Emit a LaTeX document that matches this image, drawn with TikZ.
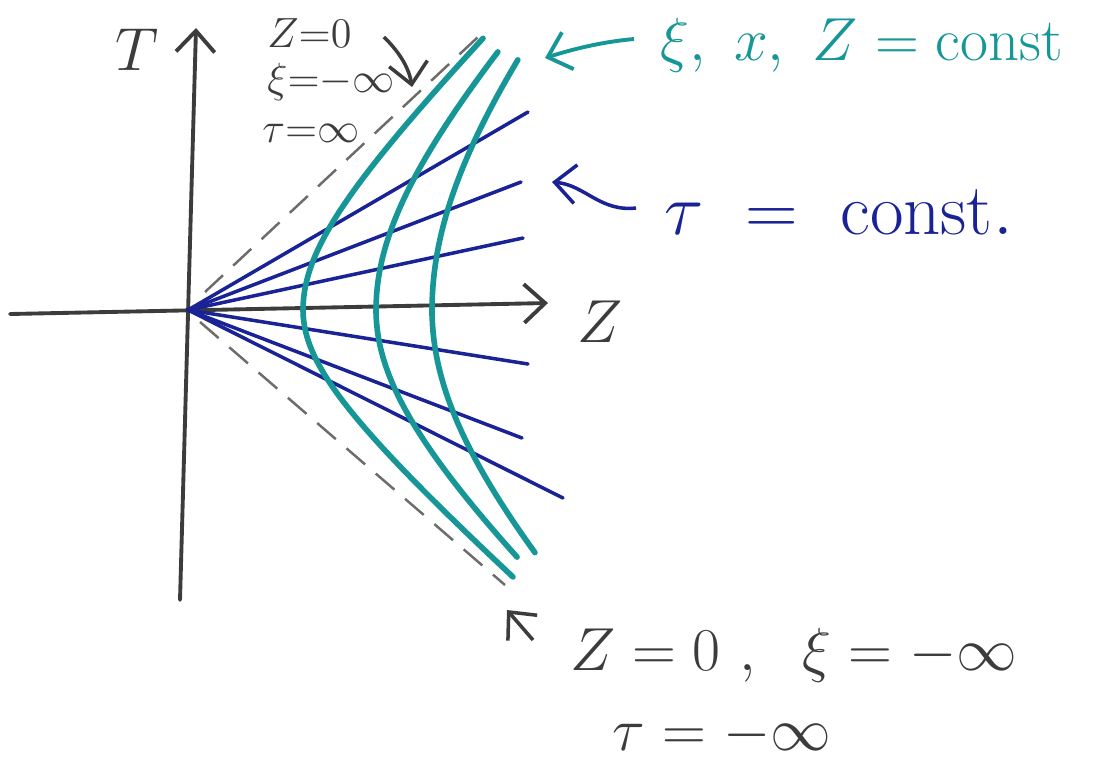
\documentclass[tikz,border=0pt]{standalone}
\usepackage{amsmath, amssymb}
\usepackage{tikz}
\usetikzlibrary{arrows.meta, calc}
\definecolor{tealink}{RGB}{22,150,150}
\definecolor{blueink}{RGB}{25,35,150}
\definecolor{pencil}{RGB}{60,60,60}

\begin{document}
\begin{tikzpicture}[x=0.01cm,y=-0.01cm,
    axis/.style={pencil,line width=1.1pt,line cap=round},
    horizon/.style={gray!85!black,line width=0.7pt,dash pattern=on 7pt off 4pt},
    tauline/.style={blueink,line width=1pt,line cap=round},
    xiline/.style={tealink,line width=1.6pt,line cap=round},
    >={Straight Barb[length=6pt,width=11pt]}]
  \useasboundingbox (0,0) rectangle (1119,760);
  \fill[white] (0,0) rectangle (1119,760);
  % axes
  \coordinate (O) at (188,310);
  \coordinate (zl) at (10,314);
  \coordinate (zr) at (548,303);
  \coordinate (tb) at (180,600);
  \coordinate (tt) at (196,28);
  \draw[axis,->] (zl) -- (zr);
  \draw[axis,->] (tb) -- (tt);
  \node[pencil,font=\LARGE] (tlbl) at (137,50) {$T$};
  \node[pencil,font=\LARGE] (zlbl) at (600,322) {$Z$};
  % horizons
  \coordinate (hup) at (478,37);
  \coordinate (hdn) at (505,585);
  \draw[horizon] (205,292) -- (hup);
  \draw[horizon] (200,322) -- (hdn);
  % tau = const
  \foreach \e in {(528,112),(521,182),(523,238),(528,364),(522,438),(563,498)}
    \draw[tauline] (O) -- \e;
  % xi = const (a / lower b / lower s / upper b / upper s)
  \foreach \a/\bl/\sl/\bu/\su in {115/101/1.699/115/1.595, 188/172/1.159/197/1.085, 244/240/0.889/275/0.816}
    \draw[xiline] plot[domain=-\sl:0,samples=30,variable=\s] ({188+\a*cosh(\s)},{310-\bl*sinh(\s)})
      -- plot[domain=0:\su,samples=30,variable=\s] ({188+\a*cosh(\s)},{310-\bu*sinh(\s)});
  % labels
  \node[pencil,font=\large,anchor=west] (top1) at (255,33) {$Z{=}0$};
  \node[pencil,font=\large,anchor=west] (top2) at (255,82) {$\xi{=}{-}\infty$};
  \node[pencil,font=\large,anchor=west] (top3) at (250,133) {$\tau{=}\infty$};
  \coordinate (toptip) at (412,87);
  \draw[pencil,line width=1pt,->] ($(top1.east)+(20,4)$) .. controls (392,45) and (408,62) .. (toptip);
  \node[tealink,font=\LARGE,anchor=west] (xilbl) at (648,45) {$\xi,\ x,\ Z = \mathrm{const}$};
  \coordinate (xitip) at (545,58);
  \draw[tealink,line width=1.1pt,->] ($(xilbl.west)+(-14,-6)$) .. controls (600,42) and (570,50) .. (xitip);
  \node[blueink,font=\huge,anchor=west] (taulbl) at (652,212) {$\tau\ =\ \mathrm{const.}$};
  \coordinate (tautip) at (552,182);
  \draw[blueink,line width=1pt,->] ($(taulbl.west)+(-16,-4)$) .. controls (600,212) and (585,185) .. (tautip);
  \node[pencil,font=\LARGE,anchor=west] (botlbl) at (558,655) {$Z = 0\ ,\ \ \xi = -\infty$};
  \node[pencil,font=\LARGE] (botlbl2) at (722,735) {$\tau = -\infty$};
  \coordinate (bottip) at (507,610);
  \draw[pencil,line width=1pt,->] ($(botlbl.west)+(-25,-15)$) -- (bottip);
\end{tikzpicture}
\end{document}
